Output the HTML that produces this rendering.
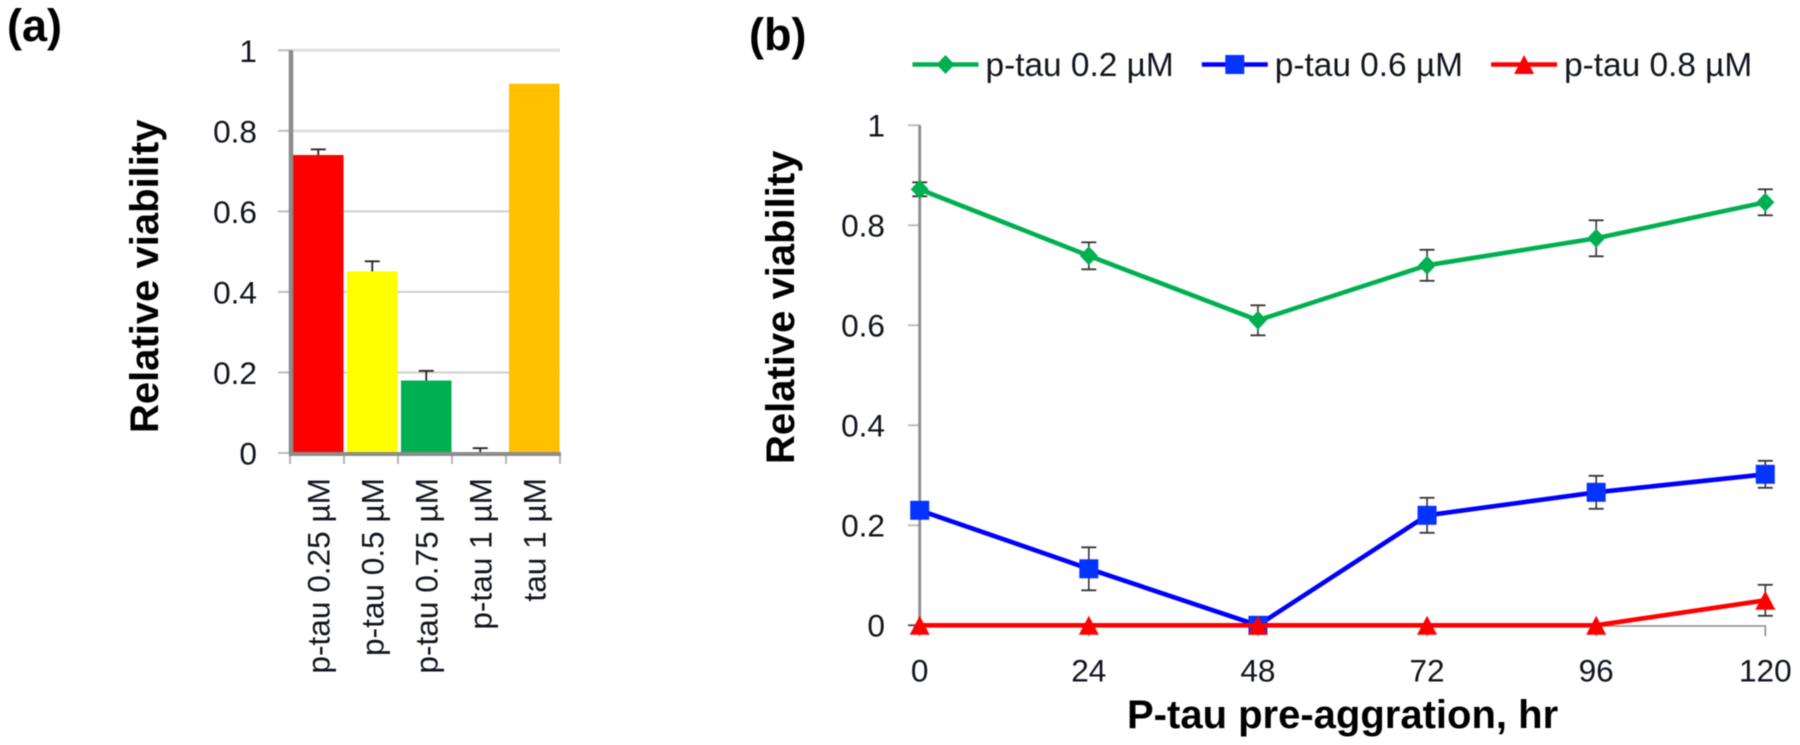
<!DOCTYPE html>
<html lang="en">
<head>
<meta charset="utf-8">
<title>Relative viability charts</title>
<style>
  html, body { margin: 0; padding: 0; background: #fff; width: 1800px; height: 745px; overflow: hidden; }
  svg { display: block; font-family: "Liberation Sans", sans-serif; filter: blur(0.4px); }
  .tick { font-size: 31.6px; fill: #12151f; }
  .title { font-size: 40px; font-weight: bold; fill: #000; }
  .panel { font-size: 45px; font-weight: bold; fill: #000; }
  .legend { font-size: 33.4px; fill: #12151f; }
</style>
</head>
<body>
<svg id="figure" xmlns="http://www.w3.org/2000/svg" width="1800" height="745" viewBox="0 0 1800 745">
  <rect width="1800" height="745" fill="#fff"/>
  <text class="panel" x="7" y="41">(a)</text>
  <text class="panel" x="749" y="50" font-size="44">(b)</text>
  <text class="title" transform="translate(158,433) rotate(-90)">Relative viability</text>
  <text class="title" transform="translate(794,464) rotate(-90)">Relative viability</text>
  <text class="title" x="1127" y="728">P-tau pre-aggration, hr</text>
  <g id="bar-chart"></g>
  <g id="line-chart"></g>
  <g id="legend"></g>
</svg>
<script>
// Bar chart data
const barCategories = ["p-tau 0.25 µM", "p-tau 0.5 µM", "p-tau 0.75 µM", "p-tau 1 µM", "tau 1 µM"];
const barValues = [0.74, 0.451, 0.18, 0, 0.917];
const barErrors = [0.014, 0.025, 0.024, 0.012, 0];
const barColors = ["#ff0000", "#ffff00", "#00b050", "#ffffff", "#ffc000"];
const barYTicks = [0, 0.2, 0.4, 0.6, 0.8, 1];

// Line chart data
const hours = [0, 24, 48, 72, 96, 120];
const lineYTicks = [0, 0.2, 0.4, 0.6, 0.8, 1];
const green02 = [0.872, 0.739, 0.61, 0.72, 0.774, 0.846];
const green02Err = [0.014, 0.027, 0.03, 0.031, 0.036, 0.026];
const blue06 = [0.23, 0.113, 0, 0.22, 0.266, 0.302];
const blue06Err = [0, 0.043, 0, 0.035, 0.033, 0.027];
const red08 = [0, 0, 0, 0, 0, 0.05];
const red08Err = [0, 0, 0, 0, 0, 0.031];
const legendLabels = ["p-tau 0.2 µM", "p-tau 0.6 µM", "p-tau 0.8 µM"];

const NS = "http://www.w3.org/2000/svg";
function make(parent, tag, props, text) {
  const el = document.createElementNS(NS, tag);
  for (const k in props) el.setAttribute(k, props[k]);
  if (text !== undefined) el.textContent = text;
  parent.appendChild(el);
  return el;
}
function fmt(v) { return String(v); }

// Axis functions: bar chart
const barY = v => 453 - v * 402.7;
const barX = i => 290 + i * 54 + 3;
const barW = 50.5;
const barCx = i => barX(i) + barW / 2;

// Axis functions: line chart
const lineY = v => 625.3 - v * 500;
const lineX = h => 919.7 + (h / 120) * 845.6;

const ga = document.getElementById("bar-chart");
const gb = document.getElementById("line-chart");
const gl = document.getElementById("legend");

// ----- Bar chart -----
barYTicks.forEach(t => {
  const y = barY(t);
  if (t > 0) {
    const grid = make(ga, "line", { x1: 291, x2: 560, y1: y, y2: y, stroke: t >= 0.8 ? "#dfdfdf" : "#cfcfcf", "stroke-width": t >= 0.8 ? 3 : 2 });
    
    
  }
  const mark = make(ga, "line", { x1: 278, x2: 291, y1: y, y2: y, stroke: "#bdbdbd", "stroke-width": 2 });
  
  
  const label = make(ga, "text", { class: "tick", x: 257, y: y + 11.5, "text-anchor": "end" }, fmt(t));
  
  
});

barCategories.forEach((c, i) => {
  if (barValues[i] > 0) {
    const bar = make(ga, "rect", { x: barX(i), y: barY(barValues[i]), width: barW, height: barY(0) - barY(barValues[i]), fill: barColors[i] });
    
    
  }
  if (barErrors[i] > 0) {
    const top = barY(barValues[i] + barErrors[i]);
    const stem = make(ga, "line", { x1: barCx(i), x2: barCx(i), y1: top, y2: barY(barValues[i]), stroke: "#222", "stroke-width": 1.8 });
    
    
    const cap = make(ga, "line", { x1: barCx(i) - 7.5, x2: barCx(i) + 7.5, y1: top, y2: top, stroke: "#222", "stroke-width": 1.8 });
    
    
  }
  const label = make(ga, "text", { class: "tick", "text-anchor": "end", transform: "translate(" + (barCx(i) + 11) + ",478) rotate(-90)" }, c);
  
  
});

for (let i = 0; i <= barCategories.length; i++) {
  const x = 290 + i * 54;
  const tick = make(ga, "line", { x1: x, x2: x, y1: 453, y2: 464, stroke: "#b5b5b5", "stroke-width": 2 });
  
  
}
const barAxisY = make(ga, "line", { x1: 291, x2: 291, y1: barY(1), y2: 456, stroke: "#8c8c8c", "stroke-width": 4.5 });


const barAxisX = make(ga, "line", { x1: 289, x2: 561, y1: 454, y2: 454, stroke: "#8c8c8c", "stroke-width": 4 });



// ----- Line chart -----
lineYTicks.forEach(t => {
  const y = lineY(t);
  const mark = make(gb, "line", { x1: 908, x2: 920, y1: y, y2: y, stroke: t === 0 ? "#555" : "#bdbdbd", "stroke-width": 2 });
  
  
  const label = make(gb, "text", { class: "tick", x: 885, y: y + 11, "text-anchor": "end" }, fmt(t));
  
  
});
const lineAxisY = make(gb, "line", { x1: lineX(0), x2: lineX(0), y1: lineY(1), y2: lineY(0), stroke: "#8c8c8c", "stroke-width": 2.8 });


const lineAxisX = make(gb, "line", { x1: lineX(0), x2: lineX(120), y1: lineY(0) + 0.7, y2: lineY(0) + 0.7, stroke: "#8c8c8c", "stroke-width": 1.6 });



hours.forEach(h => {
  const tick = make(gb, "line", { x1: lineX(h), x2: lineX(h), y1: lineY(0), y2: lineY(0) + 11, stroke: "#8c8c8c", "stroke-width": 1.6 });
  
  
  const label = make(gb, "text", { class: "tick", x: lineX(h), y: 681.5, "text-anchor": "middle" }, fmt(h));
  
  
});

function marker(parent, kind, x, y, color) {
  if (kind === "diamond") {
    return make(parent, "polygon", { points: [x, y - 9.5, x + 9, y, x, y + 9.5, x - 9, y].join(","), fill: color });
  }
  if (kind === "square") {
    return make(parent, "rect", { x: x - 9.5, y: y - 9.5, width: 19, height: 19, fill: "#0533ff" });
  }
  return make(parent, "polygon", { points: [x, y - 9.5, x + 10, y + 9.5, x - 10, y + 9.5].join(","), fill: color });
}

function drawSeries(values, errors, color, kind, seriesName) {
  const g = make(gb, "g", {});
  
  
  values.forEach((v, i) => {
    if (errors[i] <= 0) return;
    const x = lineX(hours[i]);
    const top = lineY(v + errors[i]);
    const bot = lineY(v - errors[i]);
    const stem = make(g, "line", { x1: x, x2: x, y1: top, y2: bot, stroke: "#333", "stroke-width": 1.6 });
    
    
    [top, bot].forEach(yy => {
      const cap = make(g, "line", { x1: x - 7.5, x2: x + 7.5, y1: yy, y2: yy, stroke: "#333", "stroke-width": 1.8 });
      
      
    });
  });
  const pts = values.map((v, i) => lineX(hours[i]) + "," + lineY(v)).join(" ");
  const path = make(g, "polyline", { points: pts, fill: "none", stroke: color, "stroke-width": 4.6 });
  
  
  values.forEach((v, i) => {
    const m = marker(g, kind, lineX(hours[i]), lineY(v), color);
    
    
  });
}
drawSeries(green02, green02Err, "#00b050", "diamond", "series-p-tau-0-2");
drawSeries(blue06, blue06Err, "#0000ff", "square", "series-p-tau-0-6");
drawSeries(red08, red08Err, "#ff0000", "triangle", "series-p-tau-0-8");

// ----- Legend -----
const legendKinds = ["diamond", "square", "triangle"];
const legendColors = ["#00b050", "#0000ff", "#ff0000"];
legendLabels.forEach((txt, i) => {
  const x0 = 912.5 + i * 289.3;
  const g = make(gl, "g", {});
  
  
  const key = make(g, "line", { x1: x0, x2: x0 + 66, y1: 64.5, y2: 64.5, stroke: legendColors[i], "stroke-width": 4.4 });
  
  
  const m = marker(g, legendKinds[i], x0 + 33, 64.5, legendColors[i]);
  
  
  const label = make(g, "text", { class: "legend", x: x0 + 73, y: 76 }, txt);
  
  
});
</script>
</body>
</html>
